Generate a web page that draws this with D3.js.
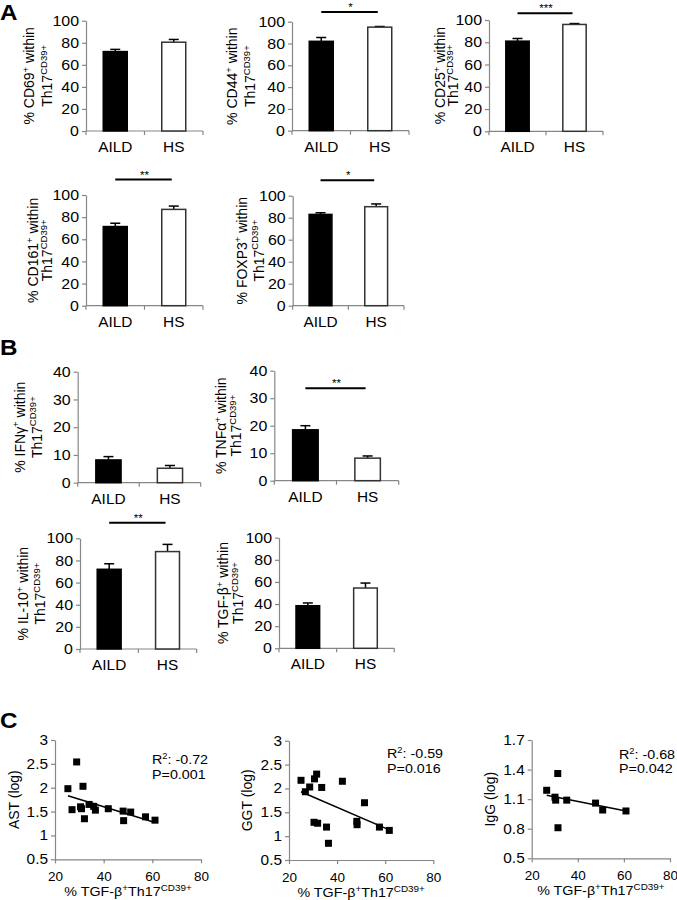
<!DOCTYPE html>
<html><head><meta charset="utf-8">
<script src="https://cdn.jsdelivr.net/npm/d3@7"></script>
<style>
body{margin:0;background:#fff}
svg{display:block}
text{font-family:"Liberation Sans",Arial,sans-serif;fill:#000}
</style>
</head><body>
<svg id="chart" width="677" height="900"></svg>
<script>
// ---------- DATA ----------
const groups = ["AILD", "HS"];
const pctTicks = [0, 20, 40, 60, 80, 100];
const lowTicks = [0, 10, 20, 30, 40];

const cd69Mean = [72, 80.5],  cd69Err = [2, 2.5];
const cd44Mean = [82, 95],    cd44Err = [3.5, 0.6];
const cd25Mean = [81, 96],    cd25Err = [2.4, 0.8];
const cd161Mean = [71.5, 87], cd161Err = [3, 3];
const foxp3Mean = [83, 90],   foxp3Err = [1.5, 2.5];
const ifngMean = [8.2, 5.2],  ifngErr = [1.2, 1.0];
const tnfaMean = [18.5, 8.2], tnfaErr = [1.5, 0.8];
const il10Mean = [72, 88],    il10Err = [5, 6.5];
const tgfbMean = [38.5, 54.5],tgfbErr = [2.5, 4.5];

const scatterXTicks = [20, 40, 60, 80];
const logTicks = [0.5, 1, 1.5, 2, 2.5, 3];
const iggTicks = [0.5, 0.8, 1.1, 1.4, 1.7];

const astX = [25.3, 28.9, 27.0, 31.5, 30.5, 30.9, 32.1, 34.0, 35.9, 36.6, 41.9, 48.0, 48.2, 51.1, 57.2, 61.1];
const astY = [1.98, 2.54, 1.54, 2.03, 1.60, 1.56, 1.35, 1.65, 1.61, 1.53, 1.56, 1.51, 1.31, 1.49, 1.39, 1.32];
const astFitX = [25.3, 61.1], astFitY = [1.83, 1.27];

const ggtX = [25.0, 26.8, 28.6, 30.6, 31.5, 33.6, 30.4, 31.9, 35.6, 36.4, 42.2, 51.4, 48.2, 48.3, 57.6, 61.7];
const ggtY = [2.17, 1.93, 2.03, 2.20, 2.30, 2.02, 1.29, 1.27, 1.19, 0.85, 2.15, 1.70, 1.31, 1.24, 1.19, 1.12];
const ggtFitX = [25.0, 61.7], ggtFitY = [1.93, 1.13];

const iggX = [26.5, 31.3, 30.1, 30.4, 31.4, 35.2, 47.7, 50.8, 60.9];
const iggY = [1.19, 1.36, 1.12, 1.09, 0.81, 1.09, 1.06, 0.99, 0.98];
const iggFitX = [26.5, 60.9], iggFitY = [1.14, 0.98];

// ---------- DRAWING ----------
const svg = d3.select("#chart");
const SX = 1.1;           // horizontal stretch of the original figure text
const AX = "#868686";
const TICK = 14.5, CAT = 14, YL = 14;

function htext(x, y, str, size, anchor, weight) {
  return svg.append("text")
    .attr("transform", `translate(${x},${y}) scale(${SX},1)`)
    .attr("font-size", size)
    .attr("text-anchor", anchor || "middle")
    .attr("font-weight", weight || "normal")
    .text(str);
}

function styleAxis(g, size) {
  g.select(".domain").attr("stroke", AX).attr("stroke-width", 1.2);
  g.selectAll(".tick line").attr("stroke", AX).attr("stroke-width", 1.2);
  g.selectAll(".tick text").attr("font-size", size).attr("fill", "#000")
    .attr("font-family", '"Liberation Sans",Arial,sans-serif');
}

function yLabel(cx, cy, parts, size) {
  const t = svg.append("text")
    .attr("transform", `translate(${cx},${cy}) rotate(-90)`)
    .attr("text-anchor", "middle").attr("dy", "0.35em")
    .attr("font-size", size);
  let raised = false;
  parts.forEach(([s, sup]) => {
    const sp = t.append("tspan").text(s);
    if (sup && !raised) { sp.attr("font-size", size * 0.68).attr("dy", -size * 0.38); raised = true; }
    else if (!sup && raised) { sp.attr("dy", size * 0.38); raised = false; }
    else if (sup) sp.attr("font-size", size * 0.68);
  });
  return t;
}

function barChart(c) {
  const x = d3.scaleBand().domain(groups).range([c.x0, c.x1]).paddingInner(0.59).paddingOuter(0.295);
  const y = d3.scaleLinear().domain([0, c.ticks[c.ticks.length - 1]]).range([c.y0, c.yTop]);
  const g = svg.append("g").attr("transform", `translate(${c.x0},0)`)
    .call(d3.axisLeft(y).tickValues(c.ticks).tickSize(4).tickSizeOuter(0).tickPadding(3));
  styleAxis(g, TICK);
  g.selectAll(".tick text").attr("x", -7 / SX).attr("transform", `scale(${SX},1)`);
  const step = x.step();
  svg.append("line").attr("x1", c.x0).attr("x2", c.x1).attr("y1", c.y0).attr("y2", c.y0)
    .attr("stroke", AX).attr("stroke-width", 1.2);
  [c.x0, c.x0 + step, c.x1].forEach(tx => svg.append("line")
    .attr("x1", tx).attr("x2", tx).attr("y1", c.y0).attr("y2", c.y0 + 4)
    .attr("stroke", AX).attr("stroke-width", 1.2));
  const bw = x.bandwidth();
  groups.forEach((gname, i) => {
    const cx = x(gname) + bw / 2;
    svg.append("line").attr("x1", cx).attr("x2", cx)
      .attr("y1", y(c.mean[i])).attr("y2", y(c.mean[i] + c.err[i]))
      .attr("stroke", "#000").attr("stroke-width", 1.5);
    svg.append("line").attr("x1", cx - 5).attr("x2", cx + 5)
      .attr("y1", y(c.mean[i] + c.err[i])).attr("y2", y(c.mean[i] + c.err[i]))
      .attr("stroke", "#000").attr("stroke-width", 1.5);
  });
  svg.selectAll(null).data(groups).join("rect")
    .attr("x", d => x(d)).attr("width", bw)
    .attr("y", (d, i) => y(c.mean[i])).attr("height", (d, i) => c.y0 - y(c.mean[i]))
    .attr("fill", (d, i) => i ? "#fff" : "#000")
    .attr("stroke", (d, i) => i ? "#333" : "#000").attr("stroke-width", 1.5);
  groups.forEach(gname => htext(x(gname) + bw / 2, c.y0 + 21, gname, CAT));
  if (c.sig) {
    const sy = y(c.sigLevel);
    svg.append("line").attr("x1", x("AILD") + bw / 2).attr("x2", x("HS") + bw / 2 - 2)
      .attr("y1", sy).attr("y2", sy).attr("stroke", "#000").attr("stroke-width", 2);
    htext((x("AILD") + x("HS")) / 2 + bw / 2, sy - 1, c.sig, 10.5);
  }
  const cy = (c.y0 + c.yTop) / 2;
  yLabel(c.x0 + c.l1, cy, [["% " + c.marker, false], ["+", true], [" within", false]], YL);
  yLabel(c.x0 + c.l2, cy, [["Th17", false], ["CD39+", true]], YL);
}

function scatter(c) {
  const x = d3.scaleLinear().domain([20, 80]).range([c.x0, c.x1]);
  const y = d3.scaleLinear().domain([c.yTicks[0], c.yTicks[c.yTicks.length - 1]]).range([c.y0, c.yTop]);
  const gy = svg.append("g").attr("transform", `translate(${c.x0},0)`)
    .call(d3.axisLeft(y).tickValues(c.yTicks).tickSize(4).tickSizeOuter(0).tickPadding(3).tickFormat(d3.format("")));
  styleAxis(gy, 14);
  gy.selectAll(".tick text").attr("x", -7 / SX).attr("transform", `scale(${SX},1)`);
  const gx = svg.append("g").attr("transform", `translate(0,${c.y0})`)
    .call(d3.axisBottom(x).tickValues(scatterXTicks).tickSize(4).tickSizeOuter(0).tickPadding(4));
  styleAxis(gx, 13.5);
  gx.selectAll(".tick text").attr("dy", "1.05em");
  svg.append("line")
    .attr("x1", x(c.fitX[0])).attr("y1", y(c.fitY[0]))
    .attr("x2", x(c.fitX[1])).attr("y2", y(c.fitY[1]))
    .attr("stroke", "#000").attr("stroke-width", 1.5);
  const s = 7;
  svg.selectAll(null).data(c.xs).join("rect")
    .attr("x", (d) => x(d) - s / 2).attr("y", (d, i) => y(c.ys[i]) - s / 2)
    .attr("width", s).attr("height", s).attr("fill", "#000");
  const t1 = svg.append("text").attr("transform", `translate(${c.sx},${c.sy}) scale(${SX},1)`)
    .attr("font-size", 13);
  t1.append("tspan").text("R");
  t1.append("tspan").text("2").attr("font-size", 8.5).attr("dy", -5);
  t1.append("tspan").text(": " + c.r).attr("dy", 5);
  htext(c.sx, c.sy + 14.5, "P=" + c.p, 13, "start");
  yLabel(c.x0 + c.yl, (c.y0 + c.yTop) / 2, [[c.name + " (log)", false]], 14);
  const xl = svg.append("text")
    .attr("transform", `translate(${(c.x0 + c.x1) / 2},${c.y0 + 37}) scale(${SX},1)`)
    .attr("text-anchor", "middle").attr("font-size", 13);
  xl.append("tspan").text("% TGF-β");
  xl.append("tspan").text("+").attr("font-size", 9).attr("dy", -5);
  xl.append("tspan").text("Th17").attr("dy", 5);
  xl.append("tspan").text("CD39+").attr("font-size", 9).attr("dy", -5);
}

// Panel A
barChart({x0: 86, x1: 203, yTop: 20.7, y0: 131, ticks: pctTicks, mean: cd69Mean, err: cd69Err, marker: "CD69", l1: -57, l2: -39});
barChart({x0: 292, x1: 409, yTop: 21.7, y0: 130.7, ticks: pctTicks, mean: cd44Mean, err: cd44Err, marker: "CD44", l1: -60, l2: -42, sig: "*", sigLevel: 109});
barChart({x0: 489, x1: 603, yTop: 20, y0: 131.3, ticks: pctTicks, mean: cd25Mean, err: cd25Err, marker: "CD25", l1: -49, l2: -36, sig: "***", sigLevel: 106});
barChart({x0: 86, x1: 203, yTop: 195, y0: 305.7, ticks: pctTicks, mean: cd161Mean, err: cd161Err, marker: "CD161", l1: -53, l2: -39, sig: "**", sigLevel: 114});
barChart({x0: 292.7, x1: 404, yTop: 195.7, y0: 305.7, ticks: pctTicks, mean: foxp3Mean, err: foxp3Err, marker: "FOXP3", l1: -51, l2: -34, sig: "*", sigLevel: 114});
// Panel B
barChart({x0: 77.7, x1: 200.7, yTop: 371.7, y0: 482.7, ticks: lowTicks, mean: ifngMean, err: ifngErr, marker: "IFNγ", l1: -58, l2: -41});
barChart({x0: 274.3, x1: 398.7, yTop: 370.7, y0: 480.7, ticks: lowTicks, mean: tnfaMean, err: tnfaErr, marker: "TNFα", l1: -53, l2: -38, sig: "**", sigLevel: 33.6});
barChart({x0: 80, x1: 196.7, yTop: 538.3, y0: 649, ticks: pctTicks, mean: il10Mean, err: il10Err, marker: "IL-10", l1: -57, l2: -40, sig: "**", sigLevel: 114});
barChart({x0: 279, x1: 394.3, yTop: 537.7, y0: 648.3, ticks: pctTicks, mean: tgfbMean, err: tgfbErr, marker: "TGF-β", l1: -56, l2: -41});
// Panel C
scatter({x0: 55, x1: 201, yTop: 740, y0: 859.3, yTicks: logTicks, xs: astX, ys: astY, fitX: astFitX, fitY: astFitY, name: "AST", r: "-0.72", p: "0.001", sx: 152, sy: 764, yl: -41});
scatter({x0: 289, x1: 433.3, yTop: 740.7, y0: 860, yTicks: logTicks, xs: ggtX, ys: ggtY, fitX: ggtFitX, fitY: ggtFitY, name: "GGT", r: "-0.59", p: "0.016", sx: 387, sy: 758, yl: -42});
scatter({x0: 531.7, x1: 670, yTop: 740, y0: 858.3, yTicks: iggTicks, xs: iggX, ys: iggY, fitX: iggFitX, fitY: iggFitY, name: "IgG", r: "-0.68", p: "0.042", sx: 619, sy: 758.5, yl: -42});

// Panel letters
htext(0, 20, "A", 22, "start", "bold");
htext(0, 355, "B", 22, "start", "bold");
htext(0, 728, "C", 22, "start", "bold");
</script>
</body></html>
